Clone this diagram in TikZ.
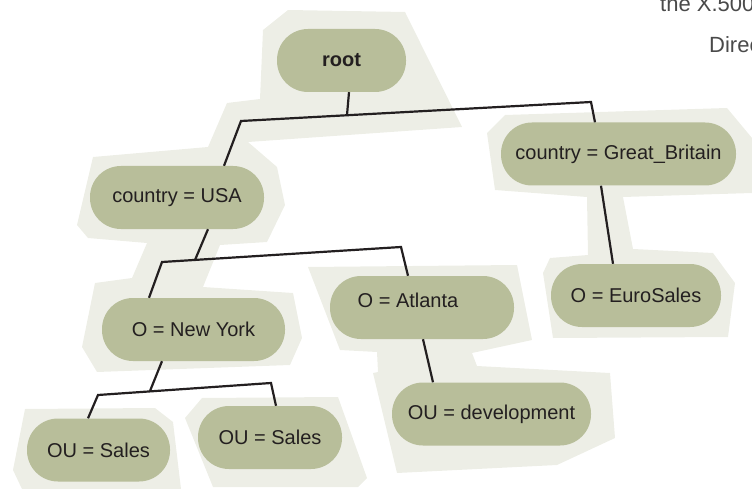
\documentclass[tikz,border=0pt]{standalone}
\usepackage{fontspec}
\setmainfont{Liberation Sans}
\usepackage{tikz}
\definecolor{pillgreen}{HTML}{B8BE9A}
\definecolor{backgrey}{HTML}{EDEEE6}
\definecolor{inkblack}{HTML}{231F20}
\definecolor{notegrey}{HTML}{4A4A4A}
\tikzset{
  pill/.style={rectangle, rounded corners=31pt, fill=pillgreen, minimum height=63pt,
    inner sep=0pt, text=inkblack, font=\fontsize{20}{24}\selectfont},
  backdrop/.style={fill=backgrey},
  link/.style={draw=inkblack, line width=2.2pt},
  note/.style={anchor=base west, inner sep=0pt, text=notegrey, font=\fontsize{22}{26}\selectfont}
}

\begin{document}
\begin{tikzpicture}[x=1pt, y=-1pt]
    \useasboundingbox (0,0) rectangle (752,489);
    \clip (0,0) rectangle (752,489);
    \fill[backdrop] (288,10) -- (405,12) -- (462,127) -- (248,142) -- (277,167) -- (285,205)
        -- (267,242) -- (220,245) -- (203,287) -- (293,293) -- (302,338) -- (290,365)
        -- (97,372) -- (82,347) -- (95,283) -- (132,278) -- (147,243) -- (88,238)
        -- (77,225) -- (93,157) -- (208,147) -- (227,103) -- (260,99) -- (263,30) -- cycle;
    \fill[backdrop] (25,409) -- (155,408) -- (173,422) -- (181,489) -- (22,489) -- (13,470) -- cycle;
    \fill[backdrop] (185,418) -- (202,398) -- (338,397) -- (367,478) -- (358,487) -- (213,487) -- cycle;
    \fill[backdrop] (308,267) -- (517,265) -- (532,340) -- (472,353) -- (477,366) -- (610,373)
        -- (615,438) -- (557,465) -- (397,473) -- (373,373) -- (378,372) -- (377,352)
        -- (340,350) -- cycle;
    \fill[backdrop] (505,115) -- (727,108) -- (752,138) -- (752,193) -- (623,197) -- (633,249)
        -- (713,253) -- (735,283) -- (728,337) -- (553,338) -- (543,273) -- (550,258)
        -- (588,255) -- (587,197) -- (495,190) -- (487,133) -- cycle;

    \node[pill, minimum width=129pt, font=\fontsize{20}{24}\selectfont\bfseries] (root) at (341.5,60.5) {root};
    \node[pill, minimum width=174pt] (usa) at (177,197.5) {country = USA};
    \node[pill, minimum width=235pt] (gb) at (618.5,154) {country = Great\_Britain};
    \node[pill, minimum width=170pt] (eurosales) at (636,295.5) {O = EuroSales};
    \node[pill, minimum width=183pt] (newyork) at (193.5,329.5) {O = New York};
    \node[pill, minimum width=184pt, text depth=14pt] (atlanta) at (422,307.5) {\hspace*{-28pt}O = Atlanta};
    \node[pill, minimum width=199pt] (devel) at (491.5,414) {OU = development};
    \node[pill, minimum width=143pt] (salesa) at (98.5,450) {OU = Sales};
    \node[pill, minimum width=144pt] (salesb) at (270,437.5) {OU = Sales};

    \coordinate (barAl) at (241,121);
    \coordinate (barAj) at (347,115);
    \coordinate (barAr) at (591,102);
    \coordinate (barBl) at (162,262);
    \coordinate (barBj) at (195,260);
    \coordinate (barBr) at (401,247);
    \coordinate (barCl) at (98,395);
    \coordinate (barCj) at (150,391);
    \coordinate (barCr) at (271,383);

    \draw[link] ([xshift=7.5pt]root.south) -- (barAj);
    \draw[link] ([xshift=47pt]usa.north) -- (barAl) -- (barAr) -- ([xshift=-23.5pt]gb.north);
    \draw[link] ([xshift=31pt]usa.south) -- (barBj);
    \draw[link] ([xshift=-44.5pt]newyork.north) -- (barBl) -- (barBr) -- ([xshift=-14pt]atlanta.north);
    \draw[link] ([xshift=-31.5pt]newyork.south) -- (barCj);
    \draw[link] ([xshift=-10.5pt]salesa.north) -- (barCl) -- (barCr) -- ([xshift=6pt]salesb.north);
    \draw[link] ([xshift=1pt]atlanta.south) -- ([xshift=-58.5pt]devel.north);
    \draw[link] ([xshift=-17.5pt]gb.south) -- ([xshift=-23pt]eurosales.north);

    \node[note] (noteA) at (660,12) {the X.500};
    \node[note] (noteB) at (709,53) {Direc};
\end{tikzpicture}
\end{document}
